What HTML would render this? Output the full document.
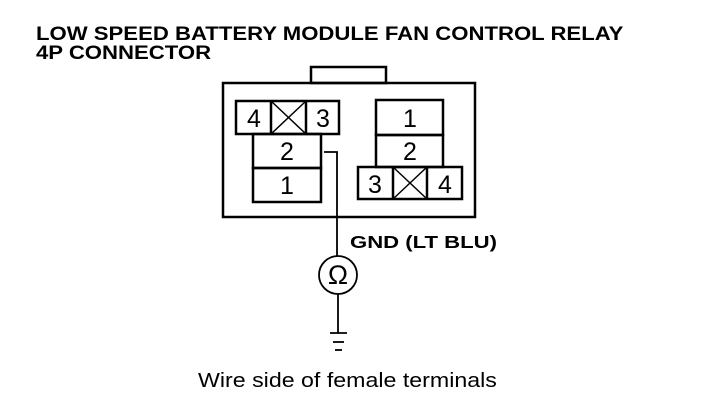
<!DOCTYPE html>
<html><head><style>
body{margin:0;background:#fff;width:704px;height:414px;overflow:hidden;position:relative;font-family:"Liberation Sans",Arial,sans-serif}
.t{position:absolute;left:36px;font-weight:bold;font-size:19px;line-height:19px;transform:scaleX(1.165);transform-origin:0 0;white-space:nowrap}
</style></head><body>
<div class="t" style="top:25px">LOW SPEED BATTERY MODULE FAN CONTROL RELAY<br>4P CONNECTOR</div>
<svg width="704" height="414" style="position:absolute;left:0;top:0" font-family="Liberation Sans, Arial, sans-serif">
<g fill="none" stroke="#000" stroke-width="2.5">
<rect x="311" y="67" width="75" height="16"/>
<rect x="223" y="83" width="252" height="134"/>
<rect x="236" y="101" width="103" height="33"/>
<line x1="271" y1="101" x2="271" y2="134"/><line x1="306" y1="101" x2="306" y2="134"/>
<line x1="271" y1="101" x2="306" y2="134" stroke-width="1.5"/><line x1="306" y1="101" x2="271" y2="134" stroke-width="1.5"/>
<rect x="253" y="134" width="68" height="34"/>
<rect x="253" y="168" width="68" height="34"/>
<rect x="376" y="100" width="67" height="35"/>
<rect x="376" y="135" width="67" height="32"/>
<rect x="358" y="167" width="104" height="32"/>
<line x1="393" y1="167" x2="393" y2="199"/><line x1="427" y1="167" x2="427" y2="199"/>
<line x1="393" y1="167" x2="427" y2="199" stroke-width="1.5"/><line x1="427" y1="167" x2="393" y2="199" stroke-width="1.5"/>
</g>
<g fill="none" stroke="#000" stroke-width="1.8">
<polyline points="324,152 337,152 337,256"/>
<circle cx="338" cy="275" r="19"/>
<line x1="338" y1="294" x2="338" y2="333"/>
<line x1="330" y1="333" x2="347" y2="333"/>
<line x1="333" y1="342" x2="344" y2="342"/>
<line x1="335" y1="350" x2="342" y2="350"/>
</g>
<g font-size="25" text-anchor="middle" fill="#000">
<text x="254" y="127">4</text><text x="323" y="127">3</text>
<text x="287" y="160">2</text><text x="287" y="194">1</text>
<text x="410" y="127">1</text><text x="410" y="160">2</text>
<text x="375" y="193">3</text><text x="445" y="193">4</text>
<text x="338" y="284" font-size="27">Ω</text>
</g>
<text x="0" y="0" font-size="18" font-weight="bold" transform="translate(350,248) scale(1.23,1)">GND (LT BLU)</text>
<text x="0" y="0" font-size="20" transform="translate(198,387) scale(1.16,1)">Wire side of female terminals</text>
</svg>
</body></html>
